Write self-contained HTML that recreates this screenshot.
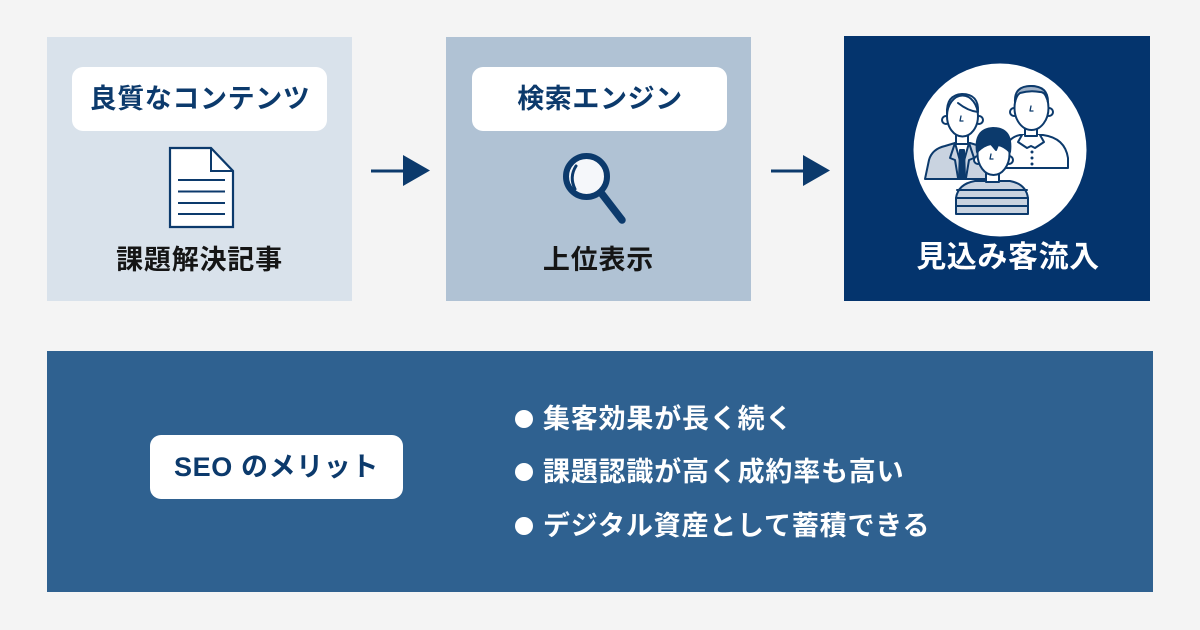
<!DOCTYPE html>
<html lang="ja">
<head>
<meta charset="utf-8">
<style>
  html,body{margin:0;padding:0;}
  body{width:1200px;height:630px;background:#f4f4f4;position:relative;overflow:hidden;
       font-family:"Liberation Sans","Noto Sans CJK JP",sans-serif;font-weight:700;}
  .abs{position:absolute;}
  .box1{left:47px;top:37px;width:305px;height:264px;background:#d9e2eb;}
  .box2{left:446px;top:37px;width:305px;height:264px;background:#b0c2d4;}
  .box3{left:844px;top:36px;width:306px;height:265px;background:#04346d;}
  .bottom{left:47px;top:351px;width:1106px;height:241px;background:#2f6190;}
  .pill{background:#fff;border-radius:11px;text-align:center;color:#0c3a6c;
        font-size:27px;letter-spacing:0.6px;white-space:nowrap;}
  .lbl{text-align:center;white-space:nowrap;}
  .bul{left:515px;width:18px;height:18px;border-radius:50%;background:#fff;}
  .bt{left:543px;color:#fff;font-size:27px;letter-spacing:0.8px;line-height:30px;height:30px;white-space:nowrap;}
</style>
</head>
<body>
  <div class="abs box1"></div>
  <div class="abs box2"></div>
  <div class="abs box3"></div>
  <div class="abs bottom"></div>

  <!-- pills -->
  <div class="abs pill" style="left:72px;top:67px;width:254px;height:64px;line-height:64px;padding-left:1px;">良質なコンテンツ</div>
  <div class="abs pill" style="left:472px;top:67px;width:254px;height:64px;line-height:64px;padding-left:1px;">検索エンジン</div>

  <!-- labels -->
  <div class="abs lbl" style="left:47px;width:305px;top:244px;height:32px;line-height:32px;font-size:27px;letter-spacing:0.8px;color:#151515;">課題解決記事</div>
  <div class="abs lbl" style="left:446px;width:305px;top:244px;height:32px;line-height:32px;font-size:27px;letter-spacing:0.8px;color:#151515;">上位表示</div>
  <div class="abs lbl" style="left:860px;width:296px;top:241px;height:34px;line-height:34px;font-size:30px;letter-spacing:0.6px;color:#fff;">見込み客流入</div>

  <!-- SEO pill -->
  <div class="abs pill" style="left:150px;top:435px;width:253px;height:64px;line-height:64px;">SEO のメリット</div>

  <!-- bullets -->
  <div class="abs bul" style="top:410px;"></div>
  <div class="abs bt" style="top:404px;">集客効果が長く続く</div>
  <div class="abs bul" style="top:463px;"></div>
  <div class="abs bt" style="top:457px;">課題認識が高く成約率も高い</div>
  <div class="abs bul" style="top:517px;"></div>
  <div class="abs bt" style="top:511px;">デジタル資産として蓄積できる</div>

  <svg class="abs" style="left:0;top:0;" width="1200" height="630" viewBox="0 0 1200 630">
    <!-- arrows -->
    <line x1="371" y1="171" x2="406" y2="171" stroke="#0c3a6c" stroke-width="3"/>
    <polygon points="403,155 430,170.5 403,186" fill="#0c3a6c"/>
    <line x1="771" y1="171" x2="806" y2="171" stroke="#0c3a6c" stroke-width="3"/>
    <polygon points="803,155 830,170.5 803,186" fill="#0c3a6c"/>

    <!-- document icon -->
    <path d="M170 148 L211 148 L233 171 L233 227 L170 227 Z" fill="#fff" stroke="#0c3a6c" stroke-width="2.2" stroke-linejoin="miter"/>
    <path d="M211 148 L211 171 L233 171" fill="none" stroke="#0c3a6c" stroke-width="2"/>
    <g stroke="#0c3a6c" stroke-width="2">
      <line x1="178" y1="180" x2="225" y2="180"/>
      <line x1="178" y1="191.5" x2="225" y2="191.5"/>
      <line x1="178" y1="203" x2="225" y2="203"/>
      <line x1="178" y1="214" x2="225" y2="214"/>
    </g>

    <!-- magnifier -->
    <line x1="602" y1="194" x2="622" y2="220" stroke="#0c3a6c" stroke-width="7.5" stroke-linecap="round"/>
    <circle cx="586.5" cy="176.5" r="20.5" fill="#f5f7fa" stroke="#0c3a6c" stroke-width="6"/>
    <path d="M576 166 Q569 177 575 189" fill="none" stroke="#0c3a6c" stroke-width="3" stroke-linecap="round"/>

    <!-- people circle -->
    <circle cx="1000" cy="150" r="86.5" fill="#fff"/>
    <g stroke="#0c3a6c" stroke-width="2" stroke-linejoin="round" stroke-linecap="round">
      <!-- left man (suit) -->
      <path d="M925 179 L929 160 Q932 149 945 146 L955 143 L970 143 L980 146 Q992 150 994 162 L996 179 Z" fill="#c9d3e0"/>
      <path d="M955 143 L962 168 L969 143 Z" fill="#fff"/>
      <path d="M960 150 L964 150 L965 178 L959 178 Z" fill="#0c3a6c"/>
      <path d="M955 143 L950 158 L955 160 L958 178" fill="none"/>
      <path d="M969 143 L974 158 L969 160 L966 178" fill="none"/>
      <rect x="956" y="133" width="12" height="11" fill="#fff"/>
      <circle cx="946" cy="120" r="4" fill="#fff"/>
      <circle cx="979" cy="120" r="4" fill="#fff"/>
      <ellipse cx="962.5" cy="116" rx="15.5" ry="20.5" fill="#fff"/>
      <path d="M947 114 Q946 95 962 94 Q979 94 978 112 Q968 111 958 103" fill="none"/>
      <path d="M961 116 L960 121 L963 121" fill="none" stroke-width="1.3"/>

      <!-- right older man -->
      <path d="M1003 168 L1006 148 Q1009 137 1020 135 L1043 135 Q1065 138 1068 158 L1068 168 Z" fill="#fff"/>
      <path d="M1022 135 L1031 146 L1040 135" fill="none"/>
      <path d="M1022 135 L1018 142 L1027 148 L1031 146 L1035 148 L1044 142 L1040 135" fill="#fff"/>
      <circle cx="1032" cy="152" r="1.5" fill="#0c3a6c" stroke="none"/>
      <circle cx="1032" cy="158" r="1.5" fill="#0c3a6c" stroke="none"/>
      <circle cx="1032" cy="164" r="1.5" fill="#0c3a6c" stroke="none"/>
      <rect x="1025" y="126" width="12" height="10" fill="#fff"/>
      <circle cx="1014" cy="112" r="4" fill="#fff"/>
      <circle cx="1049" cy="112" r="4" fill="#fff"/>
      <ellipse cx="1031.5" cy="108" rx="17" ry="22" fill="#fff"/>
      <path d="M1015 102 Q1014 86 1031 86 Q1048 86 1048 102 Q1046 92 1040 92 Q1030 90 1020 93 Q1016 96 1015 102 Z" fill="#9fb1c7"/>
      <path d="M1031 106 L1030 111 L1033 111" fill="none" stroke-width="1.3"/>

      <!-- kid front -->
      <path d="M956 214 L956 198 Q958 184 975 181 L1010 181 Q1026 184 1028 198 L1028 214 Z" fill="#c9d3e0"/>
      <line x1="957" y1="190" x2="1027" y2="190"/>
      <line x1="956" y1="198" x2="1028" y2="198"/>
      <line x1="956" y1="206" x2="1028" y2="206"/>
      <rect x="986" y="172" width="13" height="10" fill="#fff"/>
      <circle cx="978" cy="160" r="4" fill="#fff"/>
      <circle cx="1009" cy="160" r="4" fill="#fff"/>
      <ellipse cx="993.5" cy="154" rx="16" ry="21" fill="#fff"/>
      <path d="M977 152 Q974 129 993 128 Q1013 128 1010 152 Q1004 146 998 145 L996 150 L991 144 Q984 145 977 152 Z" fill="#0c3a6c"/>
      <path d="M991 154 L990 159 L993 159" fill="none" stroke-width="1.3"/>
    </g>
  </svg>
</body>
</html>
